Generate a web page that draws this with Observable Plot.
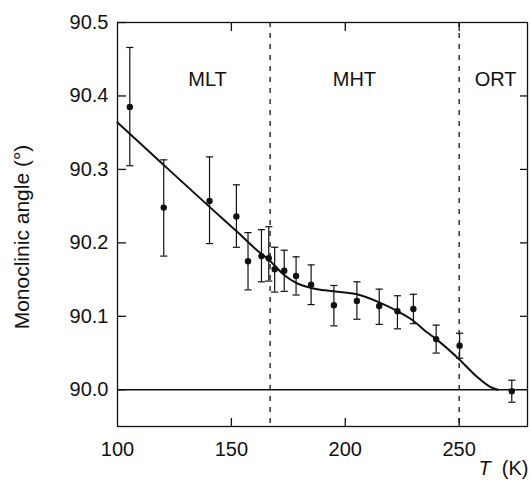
<!DOCTYPE html>
<html>
<head>
<meta charset="utf-8">
<script src="https://cdn.jsdelivr.net/npm/d3@7"></script>
<script src="https://cdn.jsdelivr.net/npm/@observablehq/plot@0.6"></script>
<style>
  html, body { margin: 0; padding: 0; background: #fff; }
  #chart { width: 530px; height: 485px; }
</style>
</head>
<body>
<div id="chart"></div>
<script>
// Measured points (temperature in K, monoclinic angle in degrees)
const temps   = [105.4, 120.3, 140.4, 152.2, 157.3, 163.2, 166.4, 169.0, 173.2, 178.4, 185.0, 195.0, 205.1, 214.9, 222.9, 229.9, 239.9, 250.2, 273.1];
const angles  = [90.385, 90.248, 90.257, 90.236, 90.175, 90.182, 90.179, 90.164, 90.162, 90.155, 90.143, 90.115, 90.121, 90.114, 90.107, 90.110, 90.069, 90.060, 89.998];
const errHigh = [90.466, 90.313, 90.317, 90.279, 90.214, 90.218, 90.222, 90.194, 90.190, 90.181, 90.170, 90.142, 90.147, 90.137, 90.128, 90.130, 90.088, 90.077, 90.013];
const errLow  = [90.305, 90.182, 90.199, 90.194, 90.136, 90.147, 90.148, 90.133, 90.134, 90.129, 90.116, 90.087, 90.096, 90.089, 90.083, 90.090, 90.050, 90.043, 89.983];

// Fitted curve
const fitT     = [100, 120.3, 140.4, 152.2, 161.2, 167.1, 172.9, 178.8, 184.6, 195.0, 205.1, 214.9, 222.9, 229.9, 235.1, 239.9, 250.2, 257.7, 263.6, 267.0];
const fitAngle = [90.364, 90.306, 90.249, 90.216, 90.190, 90.175, 90.157, 90.145, 90.139, 90.134, 90.130, 90.119, 90.107, 90.094, 90.080, 90.069, 90.041, 90.018, 90.004, 90.000];

// Phase boundaries and labels
const boundaries = [167, 250];
const phaseNames = ["MLT", "MHT", "ORT"];
const phaseT     = [139.5, 204, 266];
const phaseAngle = [90.422, 90.422, 90.422];

// Axis ticks
const xTickLabels = [100, 150, 200, 250];
const xInnerTicks = [150, 200, 250];
const yTickLabels = [90.0, 90.1, 90.2, 90.3, 90.4, 90.5];
const yRightTicks = [90.1, 90.2, 90.3, 90.4];

const points = temps.map((t, i) => ({T: t, a: angles[i], hi: errHigh[i], lo: errLow[i]}));
const fit = fitT.map((t, i) => ({T: t, a: fitAngle[i]}));
const phases = phaseNames.map((n, i) => ({name: n, T: phaseT[i], a: phaseAngle[i]}));

const capSymbol = {
  draw(context, size) {
    const h = Math.sqrt(size / Math.PI);
    context.moveTo(-h, 0);
    context.lineTo(h, 0);
  }
};

const fmt = d3.format(".1f");

const chart = Plot.plot({
  width: 530,
  height: 485,
  marginLeft: 117,
  marginRight: 3,
  marginTop: 22,
  marginBottom: 59,
  style: {fontFamily: "'Liberation Sans', Arial, sans-serif", fontSize: "20px", color: "#111", background: "#fff"},
  x: {domain: [100, 280]},
  y: {domain: [89.95, 90.5]},
  marks: [
    Plot.ruleY([90], {stroke: "#111", strokeWidth: 1.3}),
    Plot.ruleX(boundaries, {stroke: "#111", strokeWidth: 1.3, strokeDasharray: "5,6"}),
    Plot.line(fit, {x: "T", y: "a", curve: "monotone-x", stroke: "#111", strokeWidth: 2}),
    Plot.ruleX(points, {x: "T", y1: "lo", y2: "hi", stroke: "#111", strokeWidth: 1.2}),
    Plot.dot(points, {x: "T", y: "hi", symbol: capSymbol, r: 3.6, stroke: "#111", strokeWidth: 1.2}),
    Plot.dot(points, {x: "T", y: "lo", symbol: capSymbol, r: 3.6, stroke: "#111", strokeWidth: 1.2}),
    Plot.dot(points, {x: "T", y: "a", r: 3.2, fill: "#111", stroke: "none"}),
    Plot.text(phases, {x: "T", y: "a", text: "name", fontSize: 20, fill: "#111"}),
    Plot.frame({stroke: "#111", strokeWidth: 1.3}),
    Plot.axisX(xTickLabels, {anchor: "bottom", tickSize: 0, tickPadding: 15, label: null, fontSize: 20}),
    Plot.axisX(xInnerTicks, {anchor: "bottom", tickSize: -8, tickFormat: () => "", label: null, strokeWidth: 1.3}),
    Plot.axisX(xInnerTicks, {anchor: "top", tickSize: -8, tickFormat: () => "", label: null, strokeWidth: 1.3}),
    Plot.axisY(yTickLabels, {anchor: "left", tickSize: 0, tickPadding: 9, tickFormat: fmt, label: null, fontSize: 20}),
    Plot.axisY(yTickLabels, {anchor: "left", tickSize: -9, tickFormat: () => "", label: null, strokeWidth: 1.3}),
    Plot.axisY(yRightTicks, {anchor: "right", tickSize: -8, tickFormat: () => "", label: null, strokeWidth: 1.3}),
    Plot.text(["Monoclinic angle (°)"], {frameAnchor: "left", textAnchor: "middle", rotate: -90, dx: -95, dy: 12.5, fontSize: 21, letterSpacing: 0.6, fill: "#111", lineAnchor: "middle"}),
    Plot.text(["T"], {frameAnchor: "bottom-right", textAnchor: "middle", dx: -43, dy: 42, fontSize: 20, fontStyle: "italic", fill: "#111", lineAnchor: "middle"}),
    Plot.text(["(K)"], {frameAnchor: "bottom-right", textAnchor: "end", dx: 1, dy: 42, fontSize: 20, letterSpacing: 0.5, fill: "#111", lineAnchor: "middle"})
  ]
});

document.getElementById("chart").appendChild(chart);
</script>
</body>
</html>
